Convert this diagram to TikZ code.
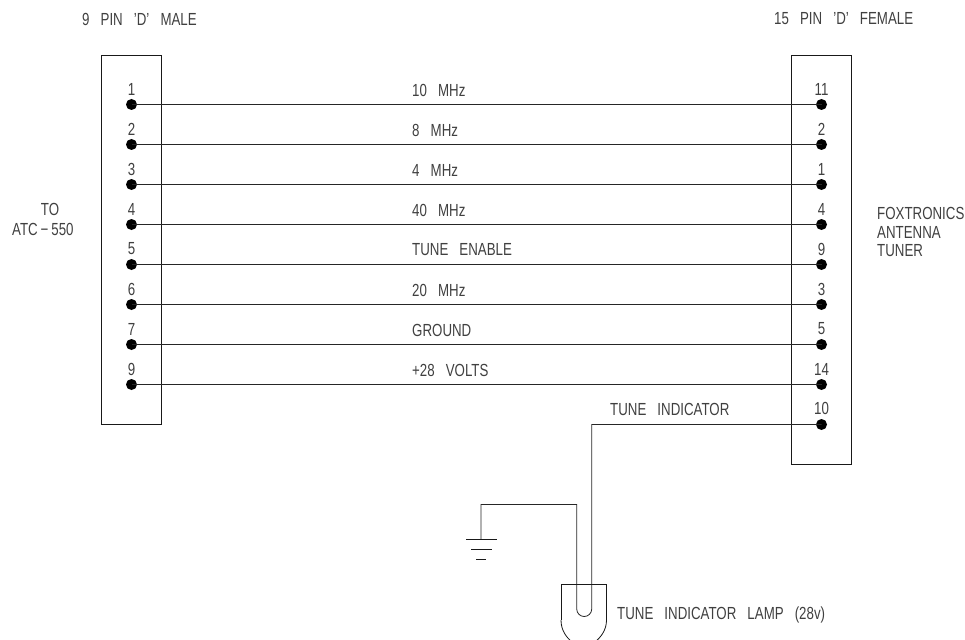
\documentclass[tikz,border=0pt]{standalone}
\usepackage{fontspec}
\setmainfont[FakeStretch=0.76,WordSpace=3]{Liberation Sans}
\begin{document}
\begin{tikzpicture}[x=1pt,y=-1pt,
  wire/.style={line width=0.8pt,black!85},
  box/.style={line width=0.8pt,black!90},
  pin/.style={circle,fill=black,inner sep=0pt,minimum size=11pt},
  txt/.style={inner sep=0pt,font=\fontsize{17.5}{20}\selectfont,text=black!75,anchor=west},
  num/.style={inner sep=0pt,font=\fontsize{17.5}{20}\selectfont,text=black!75,anchor=center}]
\useasboundingbox (0,0) rectangle (965,639);
\begin{scope}
\clip (0,0) rectangle (965,639);
\draw[box] (101.5,55) rectangle (161.5,424.5);
\draw[box] (791.5,55) rectangle (851.5,464.5);
% pins and wires
\foreach \i/\l/\r/\t [evaluate=\i as \yy using 64.5+40*\i] in
 {1/1/11/10 MHz,2/2/2/8 MHz,3/3/1/4 MHz,4/4/4/40 MHz,5/5/9/TUNE ENABLE,6/6/3/20 MHz,7/7/5/GROUND,8/9/14/+28 VOLTS}{
  \node[pin] (L\i) at (131.5,\yy) {};
  \node[pin] (R\i) at (821.5,\yy) {};
  \draw[wire] (L\i.center) -- (R\i.center);
  \node[num] (LN\i) at (131.5,\yy-15.5) {\l};
  \node[num] (RN\i) at (821.5,\yy-15.5) {\r};
  \node[txt] (T\i) at (412,\yy-14.5) {\t};
}
\node[pin] (R9) at (821.5,424.5) {};
\node[num] (RN9) at (821.5,408.5) {10};
\node[txt] (TI) at (610,409.5) {TUNE INDICATOR};
% lamp filament
\coordinate (turn) at (591.7,424.5);
\coordinate (ub) at (591.7,609);
\coordinate (ua) at (576.7,609);
\coordinate (gtop) at (576.7,504.5);
\coordinate (gc) at (481,504.5);
\coordinate (g1) at (481,539.5);
\draw[wire] (R9.center) -- (turn) -- (ub) arc[start angle=0,end angle=180,x radius=7.5,y radius=7.5] -- (gtop) -- (gc) -- (g1);
% ground
\draw[box] (466,539.5) -- (497,539.5);
\draw[box] (471,549.5) -- (492,549.5);
\draw[box] (476,559.5) -- (486,559.5);
% lamp body
\draw[box] (561,620) -- (561,584.5) -- (606.5,584.5) -- (606.5,620);
\draw[box] (561,620) .. controls (561,630) and (566,637) .. (572,642);
\draw[box] (606.5,620) .. controls (606.5,630) and (601,637) .. (595,642);
\end{scope}
\node[txt] (H1) at (82,19) {9 PIN 'D' MALE};
\node[txt] (H2) at (774,19) {15 PIN 'D' FEMALE};
\node[num] (TO) at (50,209) {TO};
\node[txt] (ATC) at (12,229) {ATC\,−\,550};
\node[txt] (F1) at (877,213) {FOXTRONICS};
\node[txt] (F2) at (877,232) {ANTENNA};
\node[txt] (F3) at (877,251) {TUNER};
\node[txt] (LAMP) at (617,614.5) {TUNE INDICATOR LAMP (28v)};
\end{tikzpicture}
\end{document}
